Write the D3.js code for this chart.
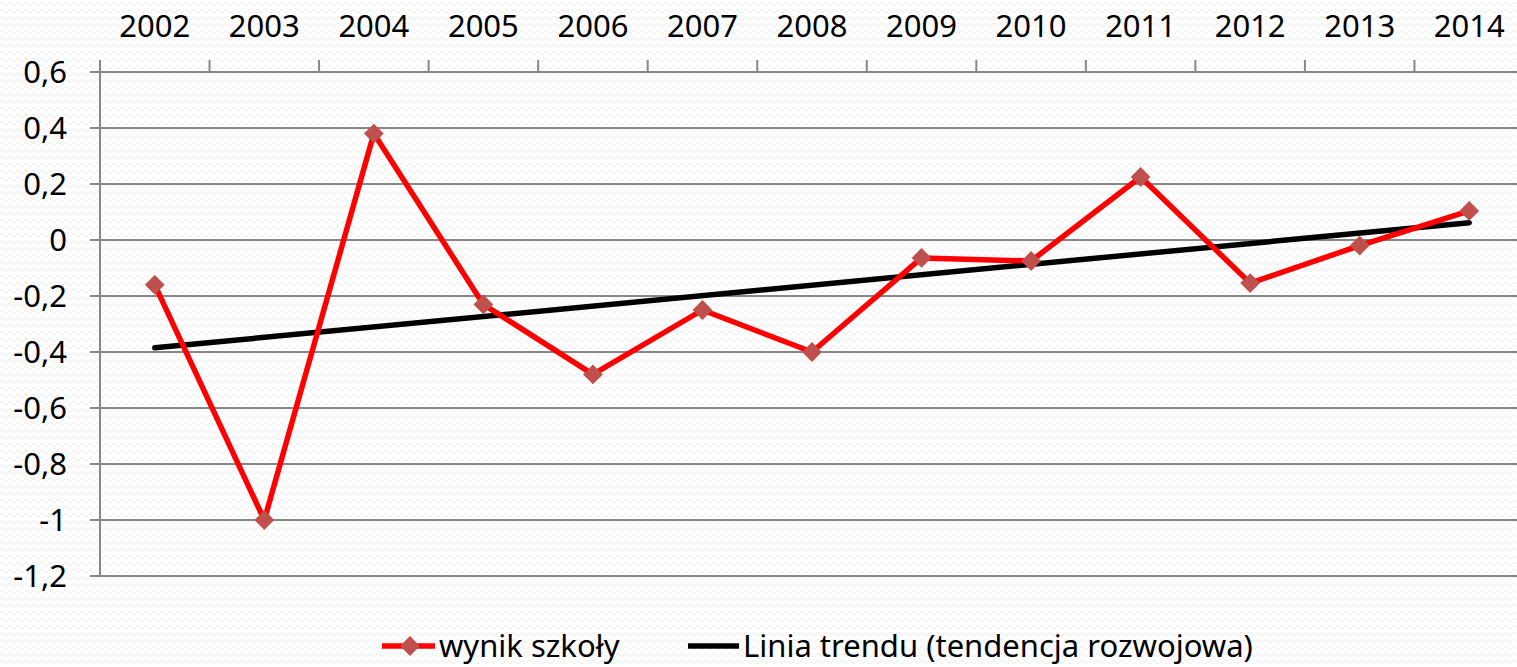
<!DOCTYPE html>
<html lang="pl">
<head>
  <meta charset="UTF-8">
  <title>wynik szkoły</title>
  <script src="https://cdnjs.cloudflare.com/ajax/libs/d3/7.8.5/d3.min.js"></script>
  <style>
    html, body { margin: 0; padding: 0; background: #fff; overflow: hidden; }
    svg { display: block; font-family: "Noto Sans", "Open Sans", sans-serif; }
  </style>
</head>
<body>
  <svg id="chart"></svg>
  <script>
    // data
    const years = ['2002', '2003', '2004', '2005', '2006', '2007', '2008', '2009', '2010', '2011', '2012', '2013', '2014'];
    const wynik = [-0.16, -1.0, 0.38, -0.23, -0.48, -0.25, -0.40, -0.064, -0.075, 0.225, -0.154, -0.02, 0.104];
    // trend line end points (first and last year)
    const trendYears = ['2002', '2014'];
    const trendValues = [-0.385, 0.062];
    const yTicks = [0.6, 0.4, 0.2, 0, -0.2, -0.4, -0.6, -0.8, -1, -1.2];

    const W = 1517, H = 667;
    const svg = d3.select('#chart').attr('width', W).attr('height', H);

    // faint wavy background
    const defs = svg.append('defs');
    const pat = defs.append('pattern')
      .attr('id', 'wave').attr('patternUnits', 'userSpaceOnUse')
      .attr('width', 8).attr('height', 7);
    pat.append('path')
      .attr('d', 'M0,4 Q2,0.5 4,4 T8,4')
      .attr('fill', 'none').attr('stroke', '#ececec').attr('stroke-width', 1);
    svg.append('rect').attr('width', W).attr('height', H).attr('fill', 'url(#wave)');

    const x = d3.scaleBand().domain(years).range([100, 1524]).paddingInner(0).paddingOuter(0);
    const cx = d => x(d) + x.bandwidth() / 2;
    const y = d3.scaleLinear().domain([-1.2, 0.6]).range([576, 72]);

    const fmt = d => String(+d.toFixed(1)).replace('.', ',');
    const grey = '#878787';
    const fs = 31;

    // horizontal gridlines + y ticks
    svg.append('g').selectAll('line').data(yTicks).join('line')
      .attr('x1', 90).attr('x2', W)
      .attr('y1', d => y(d)).attr('y2', d => y(d))
      .attr('stroke', grey).attr('stroke-width', 2);

    svg.append('g').selectAll('text').data(yTicks).join('text')
      .attr('x', 67).attr('y', d => y(d))
      .attr('dy', '0.36em')
      .attr('text-anchor', 'end')
      .attr('font-size', fs).attr('fill', '#000')
      .text(fmt);

    // y axis line
    svg.append('line')
      .attr('x1', 100).attr('x2', 100).attr('y1', 60).attr('y2', y(-1.2))
      .attr('stroke', grey).attr('stroke-width', 2);

    // top category ticks (between bands)
    svg.append('g').selectAll('line').data(years.slice(1)).join('line')
      .attr('x1', d => x(d)).attr('x2', d => x(d))
      .attr('y1', 60).attr('y2', y(0.6))
      .attr('stroke', grey).attr('stroke-width', 2);

    svg.append('g').selectAll('text').data(years).join('text')
      .attr('x', cx).attr('y', 37)
      .attr('text-anchor', 'middle')
      .attr('font-size', fs).attr('fill', '#000')
      .text(d => d);

    // trend line
    const trend = trendYears.map((t, i) => [t, trendValues[i]]);
    svg.append('path')
      .datum(trend)
      .attr('d', d3.line().x(d => cx(d[0])).y(d => y(d[1])))
      .attr('fill', 'none').attr('stroke', '#000')
      .attr('stroke-width', 5.5).attr('stroke-linecap', 'round');

    // school result line
    const series = years.map((t, i) => [t, wynik[i]]);
    svg.append('path')
      .datum(series)
      .attr('d', d3.line().x(d => cx(d[0])).y(d => y(d[1])))
      .attr('fill', 'none').attr('stroke', '#ff0000')
      .attr('stroke-width', 5.5).attr('stroke-linejoin', 'round');

    const diamond = d3.symbol().type(d3.symbolDiamond2).size(250);
    svg.append('g').selectAll('path').data(series).join('path')
      .attr('transform', d => `translate(${cx(d[0])},${y(d[1])})`)
      .attr('d', diamond)
      .attr('fill', '#c0504d');

    // legend
    const ly = 646;
    const lg = svg.append('g').attr('font-size', fs).attr('fill', '#000');
    lg.append('line').attr('x1', 382).attr('x2', 435).attr('y1', ly).attr('y2', ly)
      .attr('stroke', '#ff0000').attr('stroke-width', 5.5);
    lg.append('path').attr('transform', `translate(410,${ly})`).attr('d', diamond).attr('fill', '#c0504d');
    lg.append('text').attr('x', 439).attr('y', ly).attr('dy', '0.34em').text('wynik szkoły');
    lg.append('line').attr('x1', 688).attr('x2', 739).attr('y1', ly).attr('y2', ly)
      .attr('stroke', '#000').attr('stroke-width', 5.5);
    lg.append('text').attr('x', 743).attr('y', ly).attr('dy', '0.34em').text('Linia trendu (tendencja rozwojowa)');
  </script>
</body>
</html>
